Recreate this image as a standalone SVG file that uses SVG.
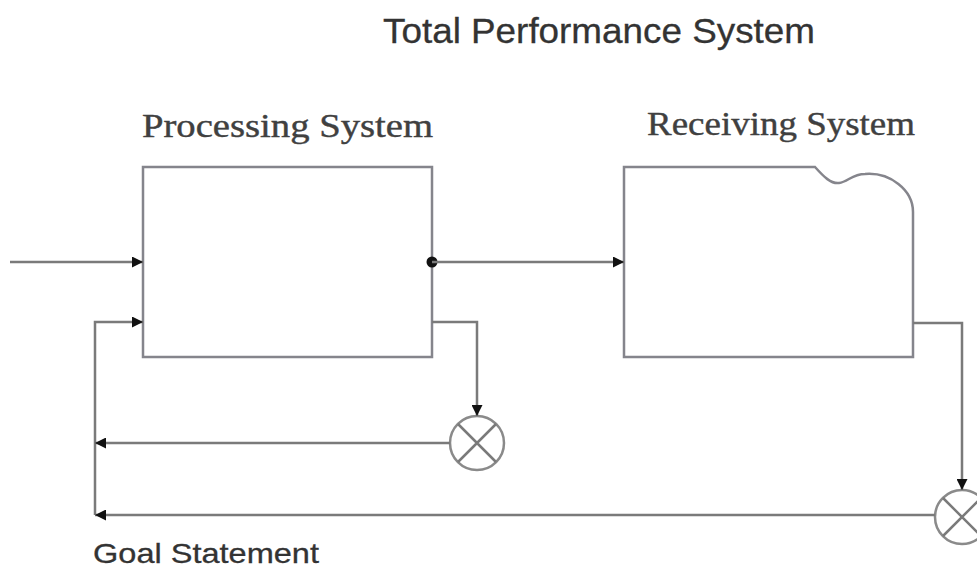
<svg xmlns="http://www.w3.org/2000/svg" width="977" height="570" viewBox="0 0 977 570">
  <style>
    .box { fill: #ffffff; stroke: #85858c; stroke-width: 2.5; }
    .wire { fill: none; stroke: #7a7a7a; stroke-width: 2.5; }
    .cmp { fill: #ffffff; stroke: #8a8a8a; stroke-width: 2.5; }
    .serif { font-family: "Liberation Serif", "Times New Roman", serif; fill: #404040; stroke: #404040; stroke-width: 0.4; }
    .sans { font-family: "Liberation Sans", Arial, sans-serif; fill: #333333; stroke: #333333; stroke-width: 0.3; }
  </style>
  <defs>
    <marker id="arrow" viewBox="0 0 10 10" refX="10" refY="5" markerWidth="4.4" markerHeight="4.4" orient="auto" markerUnits="strokeWidth">
      <path d="M0,0 L10,5 L0,10 Z" fill="#111"/>
    </marker>
    <g id="comparator">
      <circle r="27" class="cmp"/>
      <path d="M-19,-19 L19,19 M19,-19 L-19,19" class="wire"/>
    </g>
  </defs>

  <rect width="977" height="570" fill="#ffffff"/>

  <text id="title" class="sans" x="383" y="43" font-size="35" textLength="432" lengthAdjust="spacingAndGlyphs">Total Performance System</text>

  <g id="processing-system">
    <text class="serif" x="142" y="137" font-size="33" textLength="291" lengthAdjust="spacingAndGlyphs">Processing System</text>
    <rect class="box" x="143" y="167" width="289" height="190"/>
  </g>

  <g id="receiving-system">
    <text class="serif" x="647" y="135" font-size="33" textLength="268" lengthAdjust="spacingAndGlyphs">Receiving System</text>
    <path class="box" d="M624,167 H815 C824,177 831,184 839,183 C848,182 852,174 865,174 C890,172 913,190 913,212 V357 H624 Z"/>
  </g>

  <g id="comparator-1">
    <use href="#comparator" x="477" y="443"/>
  </g>

  <g id="comparator-2">
    <use href="#comparator" x="962" y="517"/>
  </g>

  <g id="goal-statement">
    <text class="sans" x="93" y="563" font-size="28" textLength="226" lengthAdjust="spacingAndGlyphs">Goal Statement</text>
  </g>

  <g id="connectors">
    <!-- input into processing -->
    <path class="wire" d="M10,262 H143" marker-end="url(#arrow)"/>
    <!-- goal feedback into processing -->
    <path class="wire" d="M95,515 V322 H143" marker-end="url(#arrow)"/>
    <!-- processing output to receiving -->
    <circle cx="432" cy="262" r="5.5" fill="#111"/>
    <path class="wire" d="M432,262 H624" marker-end="url(#arrow)"/>
    <!-- processing monitor to comparator 1 -->
    <path class="wire" d="M432,322 H477 V416" marker-end="url(#arrow)"/>
    <!-- comparator 1 back to goal line -->
    <path class="wire" d="M450,443 H95" marker-end="url(#arrow)"/>
    <!-- receiving monitor to comparator 2 -->
    <path class="wire" d="M913,323 H962 V490" marker-end="url(#arrow)"/>
    <!-- comparator 2 back to goal line -->
    <path class="wire" d="M935,515 H95" marker-end="url(#arrow)"/>
  </g>
</svg>
